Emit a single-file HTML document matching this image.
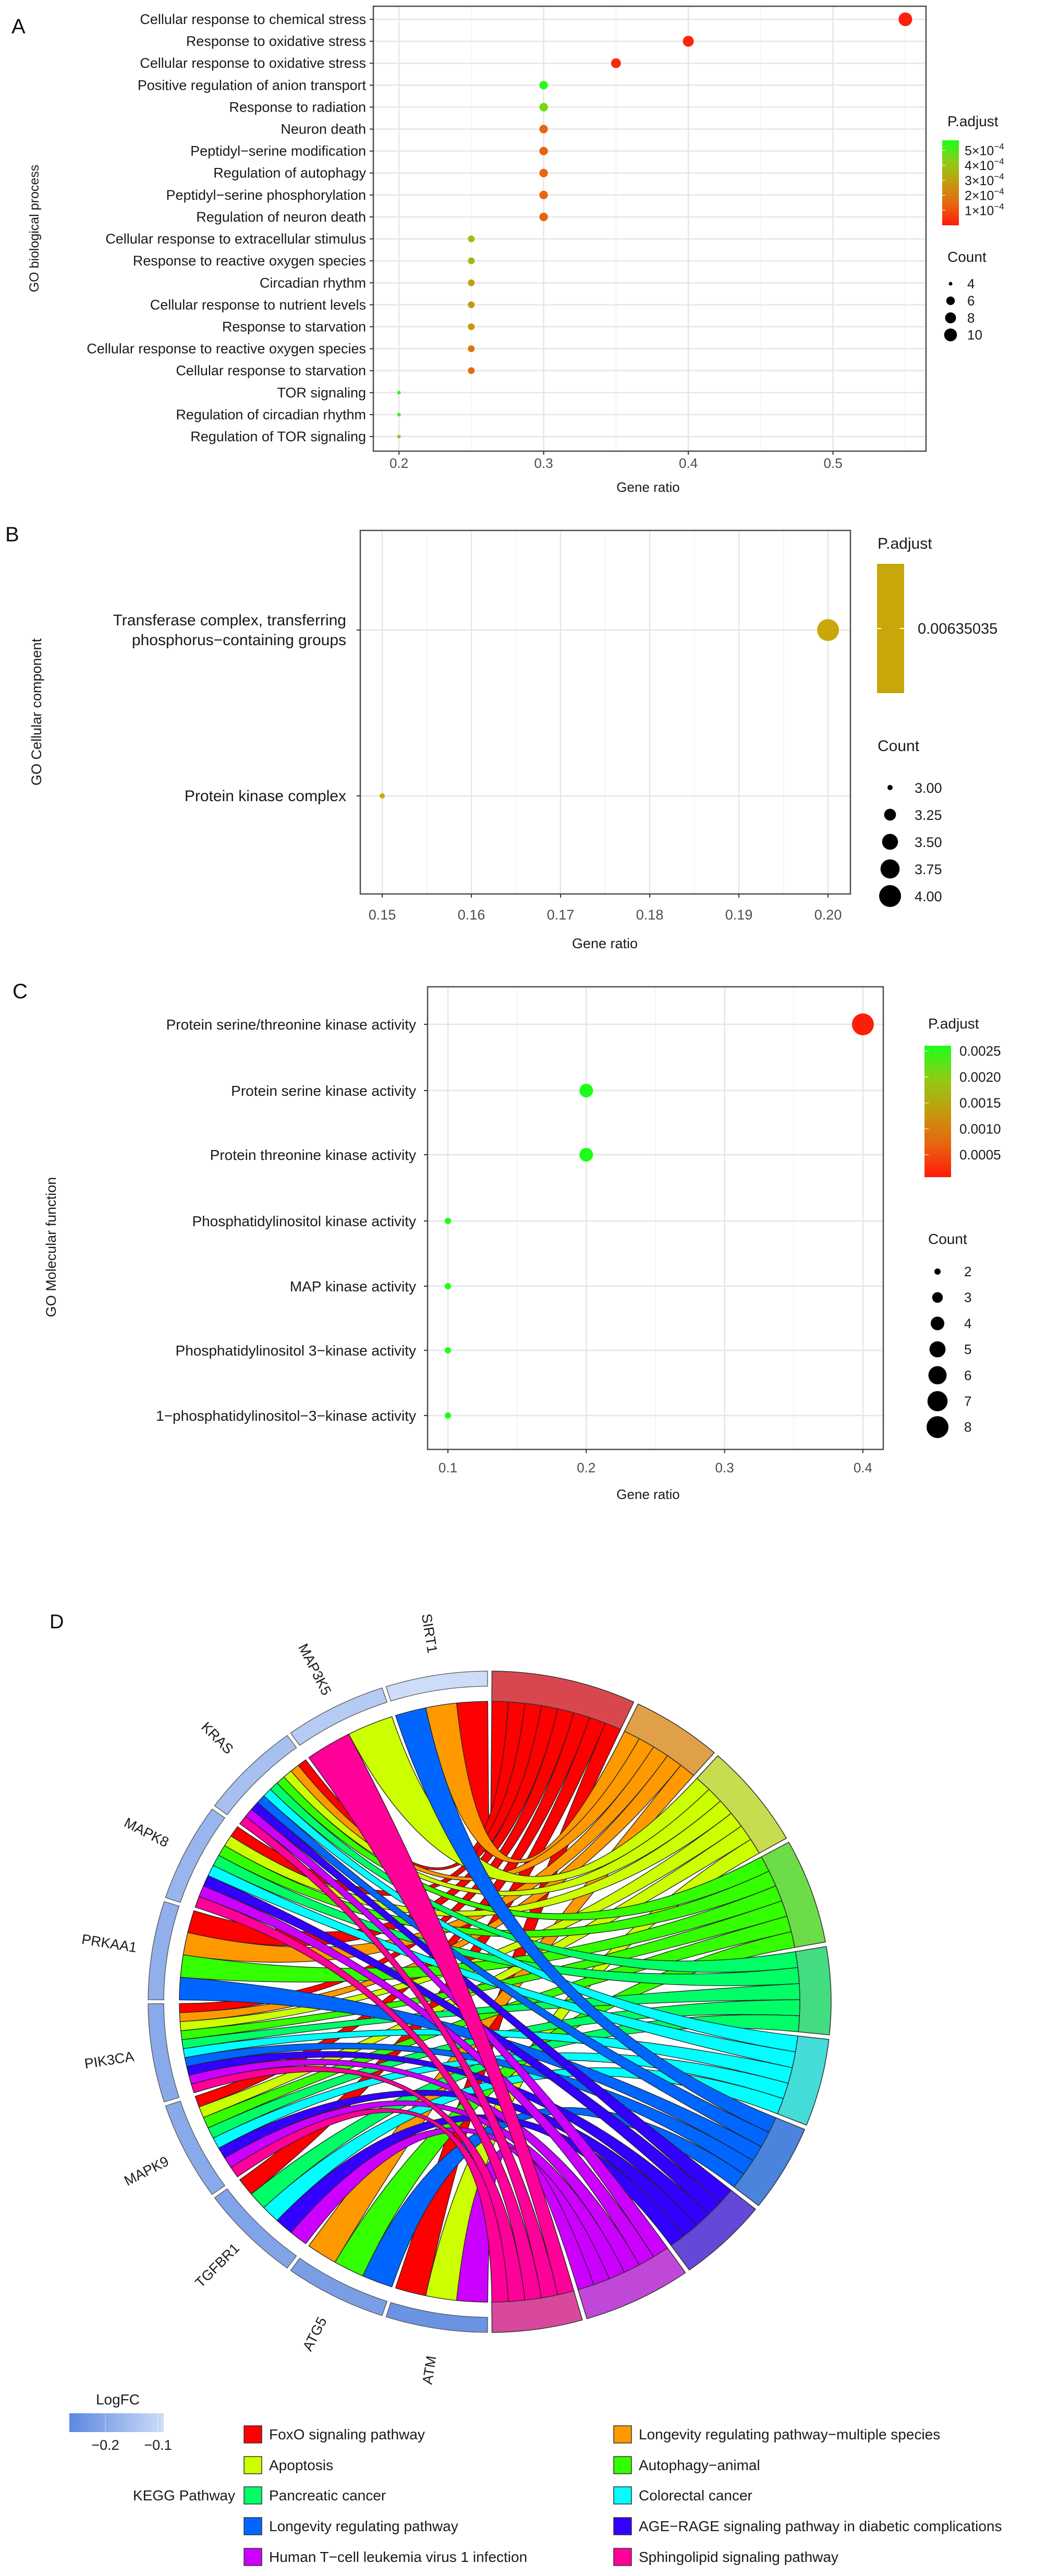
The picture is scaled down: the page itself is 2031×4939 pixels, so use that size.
<!DOCTYPE html>
<html><head><meta charset="utf-8">
<style>
html,body{margin:0;padding:0;background:#fff;}
svg{display:block;font-family:"Liberation Sans",Arial,sans-serif;}
</style></head>
<body>
<svg id="fig" width="2031" height="4939" viewBox="0 0 2031 4939" xmlns="http://www.w3.org/2000/svg">
<defs>
<linearGradient id="gradA" x1="0" y1="1" x2="0" y2="0">
<stop offset="0" stop-color="#ff1a0a"/><stop offset="0.25" stop-color="#e8650f"/><stop offset="0.5" stop-color="#c39b0e"/><stop offset="0.75" stop-color="#8fcc16"/><stop offset="1" stop-color="#1aff1a"/>
</linearGradient>
<linearGradient id="gradLog" x1="0" y1="0" x2="1" y2="0">
<stop offset="0" stop-color="#5b88e0"/><stop offset="1" stop-color="#cddcf8"/>
</linearGradient>
</defs>
<g id="panelA"></g>
<g id="panelB"></g>
<g id="panelC"></g>
<g id="panelD"></g>
</svg>
<script>
// ---------- Panel A data ----------
const aTerms = ["Cellular response to chemical stress","Response to oxidative stress","Cellular response to oxidative stress","Positive regulation of anion transport","Response to radiation","Neuron death","Peptidyl\u2212serine modification","Regulation of autophagy","Peptidyl\u2212serine phosphorylation","Regulation of neuron death","Cellular response to extracellular stimulus","Response to reactive oxygen species","Circadian rhythm","Cellular response to nutrient levels","Response to starvation","Cellular response to reactive oxygen species","Cellular response to starvation","TOR signaling","Regulation of circadian rhythm","Regulation of TOR signaling"];
const aRatio = [0.55,0.40,0.35,0.30,0.30,0.30,0.30,0.30,0.30,0.30,0.25,0.25,0.25,0.25,0.25,0.25,0.25,0.20,0.20,0.20];
const aCount = [11,8,7,6,6,6,6,6,6,6,5,5,5,5,5,5,5,4,4,4];
const aPadj = [0.1,0.2,0.3,5.5,4.6,1.4,1.4,1.4,1.4,1.4,3.8,3.7,3.0,2.8,2.7,1.8,1.6,5.5,5.3,4.3]; // x1e-4
const aTicks = [0.2,0.3,0.4,0.5];
const aLegCounts = [4,6,8,10];
const aLegP = [5,4,3,2,1];
// ---------- Panel B data ----------
const bTerms = [["Transferase complex, transferring","phosphorus\u2212containing groups"],["Protein kinase complex"]];
const bRatio = [0.20,0.15];
const bCount = [4,3];
const bTicks = [0.15,0.16,0.17,0.18,0.19,0.20];
const bLegCounts = [3.00,3.25,3.50,3.75,4.00];
// ---------- Panel C data ----------
const cTerms = ["Protein serine/threonine kinase activity","Protein serine kinase activity","Protein threonine kinase activity","Phosphatidylinositol kinase activity","MAP kinase activity","Phosphatidylinositol 3\u2212kinase activity","1\u2212phosphatidylinositol\u22123\u2212kinase activity"];
const cRatio = [0.4,0.2,0.2,0.1,0.1,0.1,0.1];
const cCount = [8,4,4,2,2,2,2];
const cPadj = [0.0001,0.0026,0.0026,0.0026,0.0026,0.0026,0.0026];
const cTicks = [0.1,0.2,0.3,0.4];
const cLegCounts = [2,3,4,5,6,7,8];
const cLegP = [0.0025,0.0020,0.0015,0.0010,0.0005];
// ---------- Panel D data ----------
const dGenes = ["ATM","ATG5","TGFBR1","MAPK9","PIK3CA","PRKAA1","MAPK8","KRAS","MAP3K5","SIRT1"];
const dLogFC = [-0.21,-0.19,-0.18,-0.17,-0.17,-0.16,-0.15,-0.13,-0.11,-0.08];
const dPathways = ["FoxO signaling pathway","Longevity regulating pathway\u2212multiple species","Apoptosis","Autophagy\u2212animal","Pancreatic cancer","Colorectal cancer","Longevity regulating pathway","AGE\u2212RAGE signaling pathway in diabetic complications","Human T\u2212cell leukemia virus 1 infection","Sphingolipid signaling pathway"];
const dMembers = [
 ["SIRT1","KRAS","MAPK8","PRKAA1","PIK3CA","MAPK9","TGFBR1","ATM"],
 ["SIRT1","KRAS","PRKAA1","PIK3CA","ATG5"],
 ["MAP3K5","KRAS","MAPK8","PIK3CA","MAPK9","ATM"],
 ["KRAS","MAPK8","PRKAA1","PIK3CA","MAPK9","ATG5"],
 ["KRAS","MAPK8","PIK3CA","MAPK9","TGFBR1"],
 ["KRAS","MAPK8","PIK3CA","MAPK9","TGFBR1"],
 ["SIRT1","KRAS","PRKAA1","PIK3CA","ATG5"],
 ["MAPK8","PIK3CA","MAPK9","TGFBR1","KRAS"],
 ["ATM","TGFBR1","MAPK9","PIK3CA","MAPK8","KRAS"],
 ["MAP3K5","MAPK8","PIK3CA","MAPK9","KRAS"]
];
const dChordColors = ["#ff0000","#ff9900","#ccff00","#33ff00","#00ff66","#00ffff","#0066ff","#3300ff","#cc00ff","#ff0099"];
const dRingColors = ["#d9474e","#e0a048","#c8dc50","#6cdc48","#44dc80","#44dcd8","#4a84dc","#6448d8","#c048d8","#d8489c"];
const dLegendOrder = [0,1,2,3,4,5,6,7,8,9];

const NS="http://www.w3.org/2000/svg";
function el(tag, parent, attrs){const e=document.createElementNS(NS,tag);for(const k in attrs)e.setAttribute(k,attrs[k]);parent.appendChild(e);return e;}
function txt(parent, x, y, s, size, anchor, extra){const t=el('text',parent,Object.assign({x:x,y:y,'font-size':size,'text-anchor':anchor||'start',fill:'#1a1a1a'},extra||{}));t.textContent=s;return t;}
function lerpHex(stops, t){t=Math.max(0,Math.min(1,t));for(let i=0;i<stops.length-1;i++){const a=stops[i],b=stops[i+1];if(t<=b[0]){const u=(t-a[0])/(b[0]-a[0]);const ca=a[1],cb=b[1];const c=[0,1,2].map(j=>Math.round(ca[j]+(cb[j]-ca[j])*u));return 'rgb('+c.join(',')+')';}}const l=stops[stops.length-1][1];return 'rgb('+l.join(',')+')';}
const pStops=[[0,[255,26,10]],[0.25,[232,101,15]],[0.5,[195,155,14]],[0.75,[143,204,22]],[1,[26,255,26]]];

function dotPanel(g, cfg){
  const x=v=>cfg.x0+(v-cfg.xmin)/(cfg.xmax-cfg.xmin)*(cfg.x1-cfg.x0);
  // gridlines
  cfg.minor.forEach(v=>{const l=el('line',g,{x1:x(v),x2:x(v),y1:cfg.y0,y2:cfg.y1,stroke:'#f2f2f2','stroke-width':1.5});});
  cfg.ticks.forEach(v=>{const l=el('line',g,{x1:x(v),x2:x(v),y1:cfg.y0,y2:cfg.y1,stroke:'#e6e6e6','stroke-width':2.5});});
  cfg.rowsY.forEach(y=>{const l=el('line',g,{x1:cfg.x0,x2:cfg.x1,y1:y,y2:y,stroke:'#e6e6e6','stroke-width':2.5});});
  const box=el('rect',g,{x:cfg.x0,y:cfg.y0,width:cfg.x1-cfg.x0,height:cfg.y1-cfg.y0,fill:'none',stroke:'#4d4d4d','stroke-width':2.5});
  
  
  // ticks
  cfg.ticks.forEach((v,i)=>{el('line',g,{x1:x(v),x2:x(v),y1:cfg.y1,y2:cfg.y1+7,stroke:'#333','stroke-width':2});
    const t=txt(g,x(v),cfg.tickY,cfg.tickLabels[i],cfg.tickSize,'middle',{fill:'#4d4d4d'});
    
    });
  cfg.rowsY.forEach(y=>{el('line',g,{x1:cfg.x0-7,x2:cfg.x0,y1:y,y2:y,stroke:'#333','stroke-width':2});});
  return x;
}

// ================= PANEL A =================
(function(){
  const g=document.getElementById('panelA');
  const L=txt(g,22,64,'A',40,'start',{fill:'#111'});
  
  
  const y0=37, dy=(837-37)/19;
  const rowsY=aTerms.map((t,i)=>y0+i*dy);
  const x=dotPanel(g,{x0:716,x1:1776,y0:12,y1:865,xmin:0.1823,xmax:0.1823+(1776-716)/2775,ticks:aTicks,minor:[0.25,0.35,0.45,0.55],tickLabels:aTicks.map(v=>v.toFixed(1)),tickY:897,tickSize:26,rowsY:rowsY});
  aTerms.forEach((t,i)=>{const s=txt(g,702,rowsY[i]+9,t,27,'end');
    
    });
  const rA=c=>2.5+9.8*Math.sqrt(Math.max(0,(c-4)/6))+ (c<=4?1:0);
  aRatio.forEach((v,i)=>{const c=el('circle',g,{cx:x(aRatio[i]),cy:rowsY[i],r:rA(aCount[i]),fill:lerpHex(pStops,aPadj[i]/5.67)});
    
    });
  const xt=txt(g,1243,943,'Gene ratio',26,'middle');
  
  
  const yt=txt(g,0,0,'GO biological process',25,'middle',{transform:'translate(74,438) rotate(-90)'});
  
  
  // legend
  const lt=txt(g,1817,242,'P.adjust',28,'start');
  
  
  const bar=el('rect',g,{x:1807,y:269,width:32,height:163,fill:'url(#gradA)'});
  
  
  aLegP.forEach(p=>{const y=432-(p/5.67)*163;
    el('line',g,{x1:1807,x2:1813,y1:y,y2:y,stroke:'#fff','stroke-width':1.5,opacity:0.7});
    const t=txt(g,1850,y+9,p+'\u00d710',25,'start');
    
    
    const ts=el('tspan',t,{dy:-11,'font-size':17});ts.textContent='\u22124';});
  const ct=txt(g,1817,502,'Count',28,'start');
  
  
  aLegCounts.forEach((c,i)=>{const y=544+i*32.7;
    const d=el('circle',g,{cx:1823,cy:y,r:rA(c),fill:'#000'});
    
    
    const t=txt(g,1855,y+9,String(c),26,'start');
    
    });
})();

// ================= PANEL B =================
(function(){
  const g=document.getElementById('panelB');
  const L=txt(g,10,1038,'B',40,'start',{fill:'#111'});
  
  
  const rowsY=[1208,1526];
  const x=dotPanel(g,{x0:691,x1:1631,y0:1017,y1:1714,xmin:0.14754,xmax:0.14754+(1631-691)/17100,ticks:bTicks,minor:[0.155,0.165,0.175,0.185,0.195],tickLabels:bTicks.map(v=>v.toFixed(2)),tickY:1763,tickSize:27,rowsY:rowsY});
  bTerms.forEach((lines,i)=>{const n=lines.length;lines.forEach((s,j)=>{
    const t=txt(g,664,rowsY[i]+10+(j-(n-1)/2)*38,s,30,'end');
    
    });});
  const rB=c=>Math.sqrt(25+416*(c-3));
  bRatio.forEach((v,i)=>{const c=el('circle',g,{cx:x(bRatio[i]),cy:rowsY[i],r:rB(bCount[i]),fill:'#c8a70a'});
    
    });
  const xt=txt(g,1160,1818,'Gene ratio',27,'middle');
  
  
  const yt=txt(g,0,0,'GO Cellular component',27,'middle',{transform:'translate(79,1365) rotate(-90)'});
  
  
  const lt=txt(g,1683,1052,'P.adjust',30,'start');
  
  
  const bar=el('rect',g,{x:1682,y:1081,width:52,height:248,fill:'#c8a70a'});
  
  
  el('line',g,{x1:1682,x2:1690,y1:1205,y2:1205,stroke:'#fff','stroke-width':2});
  el('line',g,{x1:1726,x2:1734,y1:1205,y2:1205,stroke:'#fff','stroke-width':2});
  const vl=txt(g,1760,1215,'0.00635035',29,'start');
  
  
  const ct=txt(g,1683,1440,'Count',30,'start');
  
  
  bLegCounts.forEach((c,i)=>{const y=1510+i*52;
    const d=el('circle',g,{cx:1707,cy:y,r:rB(c),fill:'#000'});
    
    
    const t=txt(g,1754,y+10,c.toFixed(2),27,'start');
    
    });
})();

// ================= PANEL C =================
(function(){
  const g=document.getElementById('panelC');
  const L=txt(g,24,1914,'C',40,'start',{fill:'#111'});
  
  
  const rowsY=[1964,2091,2214,2341,2466,2589,2714];
  const x=dotPanel(g,{x0:820,x1:1694,y0:1892,y1:2779,xmin:0.0853,xmax:0.0853+(1694-820)/2653,ticks:cTicks,minor:[0.15,0.25,0.35],tickLabels:cTicks.map(v=>v.toFixed(1)),tickY:2823,tickSize:26,rowsY:rowsY});
  cTerms.forEach((s,i)=>{const t=txt(g,798,rowsY[i]+10,s,28,'end');
    
    });
  const rC=c=>Math.sqrt(36+67.5*(c-2));
  const pmin=0.00007,pmax=0.0026;
  cRatio.forEach((v,i)=>{const c=el('circle',g,{cx:x(cRatio[i]),cy:rowsY[i],r:rC(cCount[i]),fill:lerpHex(pStops,(cPadj[i]-pmin)/(pmax-pmin))});
    
    });
  const xt=txt(g,1243,2874,'Gene ratio',26,'middle');
  
  
  const yt=txt(g,0,0,'GO Molecular function',27,'middle',{transform:'translate(107,2391) rotate(-90)'});
  
  
  const lt=txt(g,1780,1972,'P.adjust',28,'start');
  
  
  const bar=el('rect',g,{x:1773,y:2005,width:51,height:252,fill:'url(#gradA)'});
  
  
  cLegP.forEach(p=>{const y=2257-(p-pmin)/(pmax-pmin)*252;
    el('line',g,{x1:1773,x2:1781,y1:y,y2:y,stroke:'#fff','stroke-width':1.5,opacity:0.7});
    const t=txt(g,1840,y+9,p.toFixed(4),26,'start');
    
    });
  const ct=txt(g,1780,2385,'Count',28,'start');
  
  
  cLegCounts.forEach((c,i)=>{const y=2438+i*49.7;
    const d=el('circle',g,{cx:1798,cy:y,r:rC(c),fill:'#000'});
    
    
    const t=txt(g,1849,y+9,String(c),26,'start');
    
    });
})();

// ================= PANEL D =================
(function(){
  const g=document.getElementById('panelD');
  const L=txt(g,95,3122,'D',38,'start',{fill:'#111'});
  
  
  const cx=939, cy=3838, sx=1.033;
  const rOut=634, rGeneIn=605, rChord=576;
  const inner=el('g',g,{transform:'translate('+cx+','+cy+') scale('+sx+',1)'});
  const pt=(r,a)=>{const t=a*Math.PI/180;return [r*Math.sin(t),-r*Math.cos(t)];};
  const P=p=>p[0].toFixed(2)+','+p[1].toFixed(2);
  function ringSeg(r0,r1,a0,a1){const large=(a1-a0)>180?1:0;
    return 'M'+P(pt(r1,a0))+' A'+r1+','+r1+' 0 '+large+' 1 '+P(pt(r1,a1))+' L'+P(pt(r0,a1))+' A'+r0+','+r0+' 0 '+large+' 0 '+P(pt(r0,a0))+' Z';}
  // gene arcs
  const nG=dGenes.length, gGap=0.7, gSpan=180/nG;
  const geneLinks=dGenes.map(()=>[]);
  dMembers.forEach((mem,pi)=>mem.forEach(gn=>geneLinks[dGenes.indexOf(gn)].push(pi)));
  geneLinks.forEach(l=>l.sort((a,b)=>b-a));
  // pathway arcs
  const pGap=0.8, total=dMembers.reduce((s,m)=>s+m.length,0);
  const per=(180-dMembers.length*pGap)/total;
  let acc=pGap/2; const pStart=[];
  dMembers.forEach((m,i)=>{pStart.push(acc);acc+=m.length*per+pGap;});
  const pathGenes=dMembers.map(m=>m.map(gn=>dGenes.indexOf(gn)).sort((a,b)=>b-a));
  // chords (drawn pathway by pathway)
  dMembers.forEach((m,pi)=>{
    pathGenes[pi].forEach((gi,k)=>{
      const p0=pStart[pi]+k*per, p1=p0+per;
      const gs=180+gi*gSpan+gGap/2, gw=(gSpan-gGap)/geneLinks[gi].length;
      const idx=geneLinks[gi].indexOf(pi);
      const g0=gs+idx*gw, g1=g0+gw;
      const d='M'+P(pt(rChord,g0))+' A'+rChord+','+rChord+' 0 0 1 '+P(pt(rChord,g1))+' Q0,0 '+P(pt(rChord,p0))+' A'+rChord+','+rChord+' 0 0 1 '+P(pt(rChord,p1))+' Q0,0 '+P(pt(rChord,g0))+' Z';
      const c=el('path',inner,{d:d,fill:dChordColors[pi],stroke:'#222','stroke-width':1.3});
      
      
    });
  });
  // pathway ring
  dMembers.forEach((m,pi)=>{
    const s=el('path',inner,{d:ringSeg(rChord,rOut,pStart[pi],pStart[pi]+m.length*per),fill:dRingColors[pi],stroke:'#333','stroke-width':1.5});
    
    
  });
  // gene ring + labels
  const fcColor=v=>lerpHex([[0,[91,136,224]],[1,[205,220,248]]],(v+0.23)/0.15);
  dGenes.forEach((gn,gi)=>{
    const a0=180+gi*gSpan+gGap/2, a1=a0+gSpan-gGap;
    const s=el('path',inner,{d:ringSeg(rGeneIn,rOut,a0,a1),fill:fcColor(dLogFC[gi]),stroke:'#555','stroke-width':1.3});
    
    
    const am=(a0+a1)/2, p=pt(715,am);
    const t=txt(g,0,0,gn,27,'middle',{transform:'translate('+(cx+p[0]*sx).toFixed(1)+','+(cy+p[1]).toFixed(1)+') rotate('+(am-270).toFixed(1)+')','dominant-baseline':'central'});
    
    
  });
  // LogFC legend
  const lt=txt(g,226,4610,'LogFC',28,'middle');
  
  
  const lb=el('rect',g,{x:133,y:4627,width:181,height:36,fill:'url(#gradLog)'});
  
  
  [[202,'\u22120.2'],[303,'\u22120.1']].forEach(a=>{el('line',g,{x1:a[0],x2:a[0],y1:4627,y2:4663,stroke:'#fff','stroke-width':1,opacity:0.5});
    const t=txt(g,a[0],4697,a[1],27,'middle');
    
    });
  const kt=txt(g,451,4794,'KEGG Pathway',28,'end');
  
  
  const rowY=[4667,4726,4784,4843,4902];
  dLegendOrder.forEach((pi,i)=>{
    const col=i<5?0:1, row=i%5;
    const order=[0,2,4,6,8,1,3,5,7,9];
    const pidx=order[i];
    const sxp=col===0?468:1177, y=rowY[row];
    const r=el('rect',g,{x:sxp,y:y-16,width:34,height:33,fill:dChordColors[pidx],stroke:'#333','stroke-width':1.5});
    
    
    const t=txt(g,sxp+48,y+10,dPathways[pidx],28,'start');
    
    
  });
})();
</script>
</body></html>
